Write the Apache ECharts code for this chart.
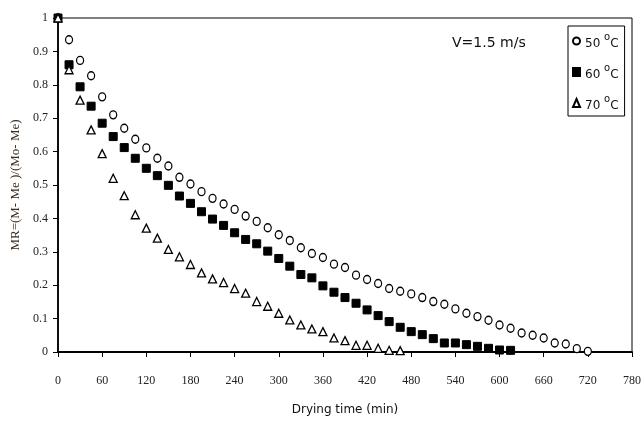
<!DOCTYPE html>
<html>
<head>
<meta charset="utf-8">
<script src="https://cdn.jsdelivr.net/npm/echarts@6/dist/echarts.min.js"></script>
<style>
  html, body { margin: 0; padding: 0; background: #fff; }
  #chart { width: 644px; height: 421px; }
</style>
</head>
<body>
<div id="chart"></div>
<script>
// drying time steps are 15 min for every run
var step = 15;

var mr50 = [1.0, 0.935, 0.873, 0.827, 0.764, 0.710, 0.670, 0.637, 0.611, 0.580,
  0.557, 0.523, 0.503, 0.480, 0.460, 0.443, 0.427, 0.407, 0.391, 0.372,
  0.351, 0.334, 0.312, 0.295, 0.283, 0.263, 0.253, 0.230, 0.217, 0.205,
  0.190, 0.182, 0.174, 0.163, 0.151, 0.143, 0.129, 0.116, 0.106, 0.095,
  0.081, 0.071, 0.057, 0.050, 0.042, 0.027, 0.024, 0.010, 0.002];

var mr60 = [1.0, 0.860, 0.794, 0.736, 0.685, 0.645, 0.612, 0.580, 0.550, 0.528,
  0.499, 0.467, 0.445, 0.420, 0.398, 0.379, 0.357, 0.337, 0.324, 0.302,
  0.280, 0.257, 0.232, 0.222, 0.198, 0.179, 0.163, 0.146, 0.126, 0.109,
  0.091, 0.074, 0.061, 0.052, 0.040, 0.027, 0.027, 0.022, 0.017, 0.011,
  0.006, 0.005];

var mr70 = [1.0, 0.845, 0.754, 0.665, 0.594, 0.520, 0.468, 0.411, 0.371, 0.341,
  0.307, 0.285, 0.262, 0.237, 0.219, 0.208, 0.190, 0.176, 0.151, 0.137,
  0.116, 0.096, 0.081, 0.069, 0.061, 0.042, 0.034, 0.020, 0.020, 0.011,
  0.005, 0.004];

var seriesNames = ['50 °C', '60 °C', '70 °C'];

function withTime(arr) {
  var out = [];
  for (var i = 0; i < arr.length; i++) {
    out.push([i * step, arr[i]]);
  }
  return out;
}

var tickFont = 'Liberation Serif, Times New Roman, serif';
var sansFont = 'DejaVu Sans, Verdana, sans-serif';

var myChart = echarts.init(document.getElementById('chart'));

var option = {
  backgroundColor: '#fff',
  animation: false,
  grid: {
    left: 58, right: 9, top: 18, bottom: 67,
    show: true, borderColor: '#000', borderWidth: 1
  },
  legend: {
    orient: 'vertical',
    left: 568, top: 26,
    width: 61,
    padding: [6, 6, 4, 4],
    itemGap: 13,
    itemWidth: 7, itemHeight: 8,
    borderColor: '#000', borderWidth: 1,
    backgroundColor: '#fff',
    data: seriesNames,
    formatter: function (name) {
      return '{t|' + name.replace(' °C', '') + ' }{s|o}{t|C}';
    },
    textStyle: {
      color: '#111',
      fontFamily: sansFont,
      rich: {
        t: { fontSize: 12, fontFamily: sansFont, color: '#111', lineHeight: 18, verticalAlign: 'bottom' },
        s: { fontSize: 10, fontFamily: sansFont, color: '#111', lineHeight: 18, verticalAlign: 'top' }
      }
    }
  },
  graphic: [{
    type: 'text',
    left: 452, top: 36,
    style: { text: 'V=1.5 m/s', fontSize: 14, fontFamily: sansFont, fill: '#111' }
  }],
  xAxis: {
    type: 'value',
    min: 0, max: 780, interval: 60,
    name: 'Drying time (min)',
    nameLocation: 'middle',
    nameGap: 52,
    nameTextStyle: { fontSize: 12, fontFamily: sansFont, color: '#111' },
    axisLine: { lineStyle: { color: '#000', width: 1.8 } },
    axisTick: { inside: false, length: 5, lineStyle: { color: '#000' } },
    axisLabel: { margin: 23, fontSize: 12, fontFamily: tickFont, color: '#222' },
    splitLine: { show: false }
  },
  yAxis: {
    type: 'value',
    min: 0, max: 1, interval: 0.1,
    name: 'MR=(M- Me )/(Mo- Me)',
    nameLocation: 'middle',
    nameGap: 35,
    nameTextStyle: { fontSize: 13, fontFamily: tickFont, color: '#3a2a1a' },
    axisLine: { show: true, lineStyle: { color: '#000', width: 1.8 } },
    axisTick: { show: true, inside: false, length: 5, lineStyle: { color: '#000' } },
    axisLabel: {
      margin: 10, fontSize: 12, fontFamily: tickFont, color: '#222',
      formatter: function (v) { return String(Math.round(v * 10) / 10); }
    },
    splitLine: { show: false }
  },
  series: [
    {
      name: seriesNames[0],
      type: 'scatter',
      data: withTime(mr50),
      symbol: 'circle',
      symbolSize: [7, 8],
      clip: false,
      itemStyle: { color: '#fff', borderColor: '#000', borderWidth: 1.3, opacity: 1 }
    },
    {
      name: seriesNames[1],
      type: 'scatter',
      data: withTime(mr60),
      symbol: 'rect',
      symbolSize: [8, 8],
      clip: false,
      itemStyle: { color: '#000', borderColor: '#000', borderWidth: 1, opacity: 1 }
    },
    {
      name: seriesNames[2],
      type: 'scatter',
      data: withTime(mr70),
      symbol: 'triangle',
      symbolSize: [8, 8],
      clip: false,
      itemStyle: { color: '#fff', borderColor: '#000', borderWidth: 1.3, opacity: 1 }
    }
  ]
};

myChart.setOption(option);
</script>
</body>
</html>
